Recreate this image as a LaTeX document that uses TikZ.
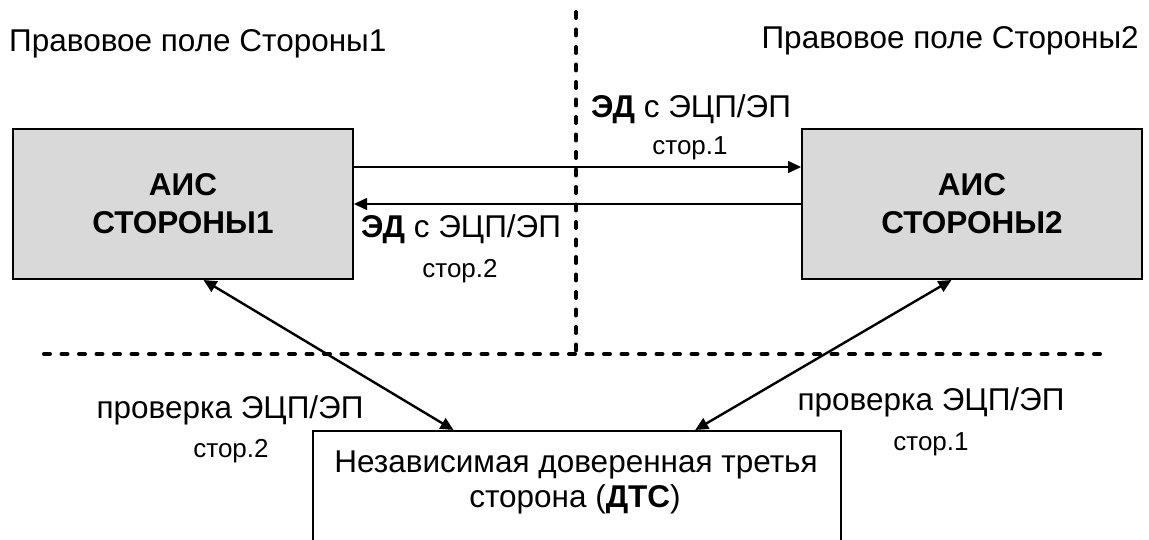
\documentclass[tikz,border=0pt]{standalone}
\usepackage{fontspec}
\setmainfont{Liberation Sans}
\usetikzlibrary{arrows.meta,calc}
\definecolor{boxgray}{RGB}{217,217,217}
\begin{document}
\begin{tikzpicture}[x=1pt,y=-1pt,
  lbl/.style={font=\fontsize{31.5}{36}\selectfont, inner sep=0pt},
  sml/.style={font=\fontsize{26}{30}\selectfont, inner sep=0pt},
  ais/.style={draw, line width=2pt, fill=boxgray, minimum width=340pt, minimum height=150pt,
    align=center, inner sep=0pt, font=\fontsize{31.5}{38}\bfseries\selectfont},
  dtsbox/.style={draw, line width=2pt, minimum width=528pt, minimum height=150pt, inner sep=0pt},
  conn/.style={line width=1.6pt, -{Triangle[length=13pt,width=12pt]}},
  biconn/.style={line width=2.4pt, {Triangle[length=13pt,width=12pt]}-{Triangle[length=13pt,width=12pt]}},
  sepline/.style={line width=4pt, line cap=round, dash pattern=on 6pt off 11.5pt}]
\path[use as bounding box] (0,0) rectangle (1149,540);
\clip (0,0) rectangle (1149,540);

% region titles
\node[lbl, anchor=base west] (t1) at (9,52) {Правовое поле Стороны1};
\node[lbl, anchor=base east] (t2) at (1139,49) {Правовое поле Стороны2};

% separators
\coordinate (v1) at (576,12);
\coordinate (v2) at (576,352);
\coordinate (h1) at (44,354);
\coordinate (h2) at (1108,354);
\draw[sepline] (v1) -- (v2);
\draw[sepline] (h1) -- (h2);

% boxes
\node[ais] (box1) at (183,204) {АИС\\СТОРОНЫ1};
\node[ais] (box2) at (972,204) {АИС\\СТОРОНЫ2};
\node[dtsbox, anchor=north] (dts) at (577,430) {};
\node[lbl, anchor=base] (dtsa) at (576,472) {Независимая доверенная третья};
\node[lbl, anchor=base] (dtsb) at (575,507) {сторона (\textbf{ДТС})};

% horizontal exchange
\coordinate (r1) at (0,167);
\coordinate (r2) at (0,204);
\draw[conn] (box1.east |- r1) -- (box2.west |- r1);
\draw[conn] (box2.west |- r2) -- (box1.east |- r2);
\node[lbl, anchor=base] (l1) at (691,118) {\textbf{ЭД} с ЭЦП/ЭП};
\node[sml, anchor=base] (l1b) at (690,155) {стор.1};
\node[lbl, anchor=base] (l2) at (461,238) {\textbf{ЭД} с ЭЦП/ЭП};
\node[sml, anchor=base] (l2b) at (460,277) {стор.2};

% verification links
\coordinate (d1a) at ($(box1.south west)!0.56!(box1.south east)$);
\coordinate (d1b) at ($(dts.north west)!0.267!(dts.north east)$);
\coordinate (d2a) at ($(box2.south west)!0.44!(box2.south east)$);
\coordinate (d2b) at ($(dts.north west)!0.723!(dts.north east)$);
\draw[biconn] (d1a) -- (d1b);
\draw[biconn] (d2a) -- (d2b);
\node[lbl, anchor=base] (c1) at (230,418) {проверка ЭЦП/ЭП};
\node[sml, anchor=base] (c1b) at (231,457) {стор.2};
\node[lbl, anchor=base] (c2) at (931,410) {проверка ЭЦП/ЭП};
\node[sml, anchor=base] (c2b) at (931,450) {стор.1};
\end{tikzpicture}
\end{document}
